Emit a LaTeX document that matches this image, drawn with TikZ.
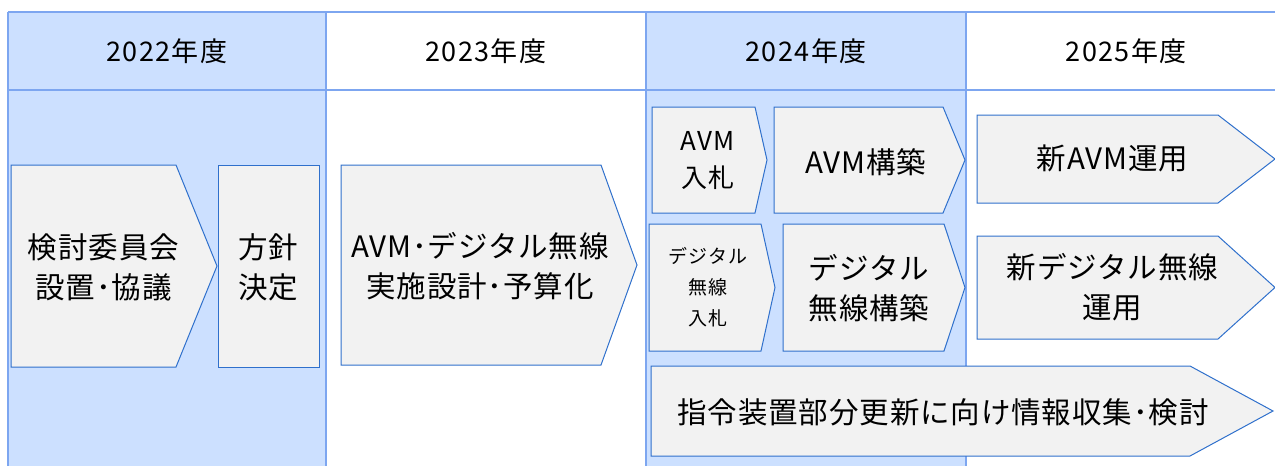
\documentclass[tikz,border=0pt]{standalone}
\usepackage{fontspec}
\newfontfamily\jp[LetterSpace=5]{Noto Sans CJK JP}
\newfontfamily\jpb[LetterSpace=3]{Noto Sans CJK JP}
\definecolor{colfill}{RGB}{204,224,255}
\definecolor{gridc}{RGB}{125,166,240}
\definecolor{boxfill}{RGB}{242,242,242}
\definecolor{boxline}{RGB}{47,112,204}
\tikzset{
  gridline/.style={draw=gridc, line width=2pt},
  phase/.style={fill=boxfill, draw=boxline, line width=1pt, line join=miter},
  hdr/.style={font=\jp\fontsize{27}{30}\selectfont, inner sep=0pt},
  big/.style={font=\jpb\fontsize{29.5}{40}\selectfont, align=center, inner sep=0pt},
  mid/.style={font=\jp\fontsize{26}{37}\selectfont, align=center, inner sep=0pt},
  small/.style={font=\jp\fontsize{19}{31}\selectfont, align=center, inner sep=0pt},
}
\newcommand\pentshape[5]{%
  \path[phase] (#1,#2) -- (#3,#2) -- (#4,{(#2+#5)/2}) -- (#3,#5) -- (#1,#5) -- cycle;}
\begin{document}
\begin{tikzpicture}[x=1pt,y=-1pt]
\useasboundingbox (0,0) rectangle (1275,466);
% column backgrounds
\fill[colfill] (8,12) rectangle (326,466);
\fill[colfill] (646,12) rectangle (966,466);
% grid
\draw[gridline] (8,12) -- (1275,12);
\draw[gridline] (8,90) -- (1275,90);
\foreach \xx in {8,326,646,966} \draw[gridline] (\xx,12) -- (\xx,466);
% headers
\node[hdr] (h22) at (167,51) {2022年度};
\node[hdr] (h23) at (486,51) {2023年度};
\node[hdr] (h24) at (806,51) {2024年度};
\node[hdr] (h25) at (1126,51) {2025年度};
% shapes
\pentshape{11}{165}{176}{217}{367}
\path[phase] (218,165) rectangle (319,367);
\pentshape{341}{165}{601}{637}{365}
\pentshape{652}{107}{755}{767}{213}
\pentshape{774}{107}{943}{965}{213}
\pentshape{649}{224}{761}{775}{351}
\pentshape{783}{224}{944}{965}{351}
\pentshape{977}{115}{1218}{1275}{203}
\pentshape{977}{236}{1218}{1275}{339}
\pentshape{651}{366}{1190}{1273}{456}
% texts
\node[big] (t1) at (103.5,267) {検討委員会\\設置･協議};
\node[big] (t2) at (268,267) {方針\\決定};
\node[big] (t3) at (480,266) {AVM･デジタル無線\\実施設計･予算化};
\node[mid] (t4) at (708,160.5) {AVM\\入札};
\node[big] (t5) at (866,162) {AVM構築};
\node[small] (t6) at (708,287) {デジタル\\無線\\入札};
\node[big] (t7) at (869,288) {デジタル\\無線構築};
\node[big] (t8) at (1112.5,158) {新AVM運用};
\node[big] (t9) at (1112.5,287.5) {新デジタル無線\\運用};
\node[big] (t10) at (943,412) {指令装置部分更新に向け情報収集･検討};
\end{tikzpicture}
\end{document}
